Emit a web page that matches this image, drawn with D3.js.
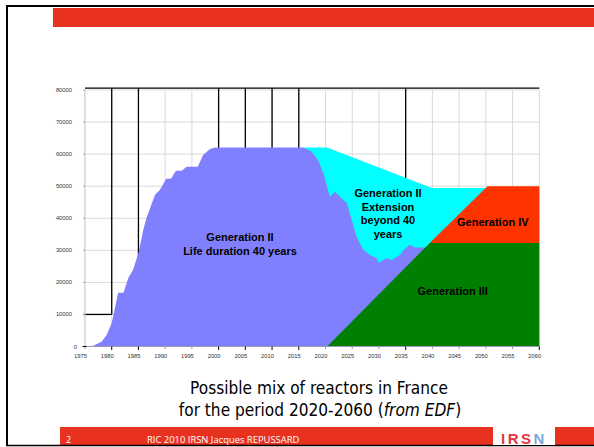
<!DOCTYPE html>
<html><head><meta charset="utf-8">
<script src="https://cdn.jsdelivr.net/npm/d3@7"></script>
<style>body{margin:0;background:#fff}svg{display:block}</style>
</head><body>
<svg id="c" width="594" height="447"></svg>
<script>
// ---------- data ----------
const xTickLabels = ["1975","1980","1985","1990","1995","2000","2005","2010","2015","2020","2025","2030","2035","2040","2045","2050","2055","2060"];
const yTickLabels = ["0","10000","20000","30000","40000","50000","60000","70000","80000"];

const gen2Years  = [1976.25,1978.1,1979.05,1980.0,1980.6,1981.2,1982.2,1983.1,1984.0,1985.0,1985.9,1986.5,1988.1,1989.0,1990.2,1991.1,1992.0,1993.1,1994.0,1996.1,1997.1,1998.4,1999.3,2015.8,2017.4,2018.6,2019.6,2020.8,2021.8,2022.7,2024.0,2024.9,2025.8,2027.1,2028.3,2029.6,2029.9,2031.4,2032.4,2033.9,2034.6,2035.8,2036.7,2038.6,2039.9];
const gen2Values = [0,1500,3600,7300,12000,16800,16800,21400,23900,29200,36300,40100,47300,48800,52300,52300,54800,54800,56100,56100,59700,61600,62100,62100,60800,58200,54100,46700,48300,46700,44700,39500,34200,30100,28500,27500,26100,27500,27000,28500,30100,31700,30900,30900,31000];

const extYears  = [2015.8, 2020.3, 2039.9, 2050.0];
const extValues = [62100, 62100, 49400, 49400];

const gen3Years  = [2020.3, 2039.5, 2060];
const gen3Values = [0, 32300, 32300];

const gen4Years  = [2039.5, 2050.3, 2060];
const gen4Values = [32300, 50000, 50000];
const gen4Base   = 32300;

const refLineYears = [1980, 1985, 2000, 2005, 2010, 2015, 2035];
const refTopValue  = 80600;
const refLeftValue = 10000;
const majorTickYears = ["1980","1985","2000","2005","2010","2015","2035","2060"];

const areaLabels = [
  {lines:["Generation II","Life duration 40 years"], year:2004.0, value:34250},
  {lines:["Generation II","Extension","beyond 40","years"], year:2031.7, value:47880},
  {lines:["Generation IV"], year:2051.3, value:38930},
  {lines:["Generation III"], year:2043.8, value:17310}
];

// ---------- drawing ----------
const svg = d3.select("#c");
const x = d3.scaleLinear().domain([1975, 2060]).range([85, 539.3]);
const y = d3.scaleLinear().domain([0, 80000]).range([346.5, 90]);

// slide frame
svg.append("rect").attr("x",0).attr("y",0).attr("width",594).attr("height",447).attr("fill","#fff");
svg.append("rect").attr("x",53).attr("y",8).attr("width",541).attr("height",19).attr("fill","#E8321F");
svg.append("rect").attr("x",60).attr("y",427).attr("width",534).attr("height",18).attr("fill","#E8321F");
svg.append("path").attr("d","M7,445 V6 H594").attr("fill","none").attr("stroke","#000").attr("stroke-width",2);
svg.append("line").attr("x1",6).attr("x2",594).attr("y1",445.5).attr("y2",445.5).attr("stroke","#000").attr("stroke-width",1.5);

// gridlines
const g = svg.append("g");
g.selectAll(".vg").data(xTickLabels).join("line")
  .attr("x1",d=>x(+d)).attr("x2",d=>x(+d)).attr("y1",y(80000)).attr("y2",y(0))
  .attr("stroke","#d9d9d9").attr("stroke-width",1);
g.selectAll(".hg").data(yTickLabels.slice(1)).join("line")
  .attr("x1",x(1975)).attr("x2",x(2060)).attr("y1",d=>y(+d)).attr("y2",d=>y(+d))
  .attr("stroke","#d9d9d9").attr("stroke-width",1);

// black reference lines
g.append("line").attr("x1",x(1975)).attr("x2",x(2060)).attr("y1",y(refTopValue)).attr("y2",y(refTopValue))
  .attr("stroke","#000").attr("stroke-width",1.3);
g.append("line").attr("x1",x(1975)-2).attr("x2",x(1980)).attr("y1",y(refLeftValue)).attr("y2",y(refLeftValue))
  .attr("stroke","#000").attr("stroke-width",1.3);
g.selectAll(".rl").data(refLineYears).join("line")
  .attr("x1",d=>x(d)).attr("x2",d=>x(d)).attr("y1",y(refTopValue))
  .attr("y2",d=>d===1980?y(refLeftValue):y(0))
  .attr("stroke","#000").attr("stroke-width",1.3);

// areas
const area = d3.area().x(d=>x(d[0])).y0(d=>y(d[2])).y1(d=>y(d[1]));
const zipA = (xs, vs, base) => xs.map((v,i)=>[v, vs[i], base]);
svg.append("path").datum(zipA(extYears, extValues, 0)).attr("d", area).attr("fill","#00FFFF");
svg.append("path").datum(zipA(gen2Years, gen2Values, 0)).attr("d", area).attr("fill","#8080FF");
svg.append("path").datum(zipA(gen3Years, gen3Values, 0)).attr("d", area).attr("fill","#008000");
svg.append("path").datum(zipA(gen4Years, gen4Values, gen4Base)).attr("d", area).attr("fill","#FF3300");

// axes lines
svg.append("line").attr("x1",x(1975)).attr("x2",x(2060)).attr("y1",y(0)).attr("y2",y(0)).attr("stroke","#9a9ab8").attr("stroke-width",1);
svg.append("line").attr("x1",x(1975)).attr("x2",x(1975)).attr("y1",y(80000)).attr("y2",y(0)).attr("stroke","#d0d0d0").attr("stroke-width",1);

// x ticks
svg.selectAll(".xt").data(xTickLabels).join("line")
  .attr("x1",d=>x(+d)).attr("x2",d=>x(+d)).attr("y1",y(0))
  .attr("y2",d=>majorTickYears.includes(d)?y(0)+3.5:y(0)+2.5)
  .attr("stroke",d=>majorTickYears.includes(d)?"#000":"#999").attr("stroke-width",1);
svg.selectAll(".xl").data(xTickLabels).join("text")
  .attr("x",d=>x(+d)-4.5).attr("y",358)
  .attr("text-anchor","middle").attr("font-family","Liberation Sans, Arial, sans-serif")
  .attr("font-size",5.8).attr("fill","#333").text(d=>d);

// y ticks
svg.selectAll(".yt").data(yTickLabels).join("line")
  .attr("x1",d=>d==="0"?x(1975)-2.5:x(1975)-2).attr("x2",d=>d==="0"?x(1975)+1.5:x(1975))
  .attr("y1",d=>y(+d)).attr("y2",d=>y(+d))
  .attr("stroke",d=>d==="0"?"#000":"#aaa").attr("stroke-width",1);
svg.selectAll(".yl").data(yTickLabels).join("text")
  .attr("x",d=>d==="0"?77:72).attr("y",d=>y(+d)+2)
  .attr("text-anchor","end").attr("font-family","Liberation Sans, Arial, sans-serif")
  .attr("font-size",5.8).attr("fill","#333").text(d=>d);

// area labels
areaLabels.forEach((L,li)=>{
  const gap = li===1 ? 13.7 : 14.6;
  const t = svg.append("text").attr("text-anchor","middle")
    .attr("font-family","Liberation Sans, Arial, sans-serif").attr("font-weight","bold")
    .attr("font-size",11).attr("fill","#000");
  L.lines.forEach((s,i)=>{
    t.append("tspan").attr("x",x(L.year)).attr("y",y(L.value)+4+i*gap).text(s);
  });
});

// title
const tf = "DejaVu Sans Condensed, DejaVu Sans, sans-serif";
const t1 = svg.append("text").attr("x",319).attr("y",394).attr("text-anchor","middle")
  .attr("font-family",tf).attr("font-size",15).attr("fill","#000")
  .text("Possible mix of reactors in France");
const w1 = t1.node().getComputedTextLength();
const fs = 15*258/w1;
t1.attr("font-size",fs);
const t2 = svg.append("text").attr("x",320).attr("y",415.5).attr("text-anchor","middle")
  .attr("font-family",tf).attr("font-size",fs).attr("fill","#000");
t2.append("tspan").text("for the period 2020-2060 (");
t2.append("tspan").attr("font-style","italic").text("from EDF");
t2.append("tspan").text(")");

// footer
const ff = "Open Sans, sans-serif";
svg.append("text").attr("x",66).attr("y",443).attr("font-family",ff).attr("font-size",9).attr("fill","#fff").text("2");
const ft = svg.append("text").attr("x",147).attr("y",443).attr("font-family",ff).attr("font-size",9).attr("fill","#fff")
  .text("RIC 2010 IRSN Jacques REPUSSARD");
const fw = ft.node().getComputedTextLength();
ft.attr("font-size", 9*152.6/fw);

// logo
svg.append("rect").attr("x",493).attr("y",427).attr("width",62).attr("height",18).attr("fill","#fff");
const lg = svg.append("text").attr("x",524).attr("y",443.5).attr("text-anchor","middle")
  .attr("font-family","Liberation Sans, Arial, sans-serif").attr("font-weight","bold")
  .attr("font-size",15).attr("letter-spacing",2.5);
lg.append("tspan").attr("fill","#E3363E").text("IRS");
lg.append("tspan").attr("fill","#7BA7D8").text("N");
</script>
</body></html>
